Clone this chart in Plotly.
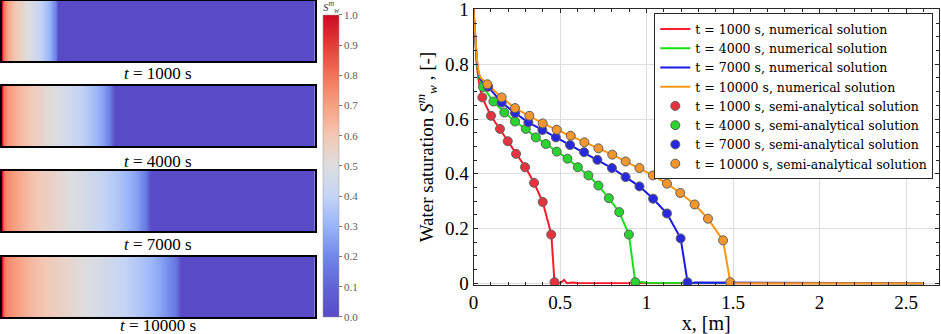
import plotly.graph_objects as go

# ---------------- data ----------------
times = ["1000", "4000", "7000", "10000"]

# numerical solutions (x [m], Sw)
num_x_1000 = [0.0, 0.01, 0.02, 0.03, 0.04, 0.05, 0.10, 0.15, 0.20, 0.25, 0.30, 0.35, 0.40, 0.45, 0.468, 0.48, 0.50, 0.524, 0.54, 0.573, 0.60, 2.60]
num_s_1000 = [1.0, 0.87, 0.79, 0.74, 0.71, 0.679, 0.612, 0.564, 0.519, 0.473, 0.424, 0.367, 0.297, 0.178, 0.004, 0.0, 0.0, 0.012, 0.0, 0.003, 0.001, 0.0]

num_x_4000 = [0.0, 0.01, 0.02, 0.03, 0.04, 0.055, 0.115, 0.178, 0.240, 0.302, 0.360, 0.418, 0.481, 0.543, 0.603, 0.664, 0.722, 0.782, 0.842, 0.898, 0.935, 0.95, 0.97, 1.0, 2.60]
num_s_4000 = [1.0, 0.88, 0.80, 0.76, 0.735, 0.717, 0.664, 0.624, 0.591, 0.564, 0.533, 0.509, 0.481, 0.455, 0.424, 0.394, 0.357, 0.311, 0.260, 0.178, 0.004, 0.0, 0.005, 0.002, 0.0]

num_x_7000 = [0.0, 0.01, 0.02, 0.03, 0.04, 0.085, 0.163, 0.240, 0.317, 0.398, 0.476, 0.558, 0.639, 0.716, 0.800, 0.879, 0.959, 1.038, 1.118, 1.197, 1.237, 1.26, 1.28, 2.60]
num_s_7000 = [1.0, 0.89, 0.81, 0.765, 0.745, 0.718, 0.660, 0.622, 0.588, 0.560, 0.533, 0.505, 0.479, 0.451, 0.421, 0.388, 0.354, 0.309, 0.255, 0.164, 0.004, 0.0, 0.003, 0.0]

num_x_10000 = [0.0, 0.01, 0.02, 0.03, 0.04, 0.080, 0.163, 0.240, 0.323, 0.400, 0.481, 0.562, 0.641, 0.722, 0.802, 0.879, 0.959, 1.037, 1.118, 1.195, 1.278, 1.355, 1.442, 1.484, 1.50, 2.60]
num_s_10000 = [1.0, 0.90, 0.82, 0.77, 0.752, 0.727, 0.679, 0.640, 0.612, 0.584, 0.561, 0.539, 0.515, 0.493, 0.470, 0.445, 0.421, 0.394, 0.364, 0.330, 0.288, 0.236, 0.157, 0.004, 0.0, 0.0]

# semi-analytical solutions
sa_x_1000 = [0.051, 0.101, 0.153, 0.198, 0.246, 0.298, 0.350, 0.400, 0.449, 0.468]
sa_s_1000 = [0.679, 0.612, 0.564, 0.519, 0.473, 0.424, 0.367, 0.297, 0.178, 0.004]

sa_x_4000 = [0.055, 0.115, 0.178, 0.240, 0.302, 0.360, 0.418, 0.481, 0.543, 0.603, 0.664, 0.722, 0.782, 0.842, 0.898, 0.935]
sa_s_4000 = [0.717, 0.664, 0.624, 0.591, 0.564, 0.533, 0.509, 0.481, 0.455, 0.424, 0.394, 0.357, 0.311, 0.260, 0.178, 0.004]

sa_x_7000 = [0.085, 0.163, 0.240, 0.317, 0.398, 0.476, 0.558, 0.639, 0.716, 0.800, 0.879, 0.959, 1.038, 1.118, 1.197, 1.237]
sa_s_7000 = [0.718, 0.660, 0.622, 0.588, 0.560, 0.533, 0.505, 0.479, 0.451, 0.421, 0.388, 0.354, 0.309, 0.255, 0.164, 0.004]

sa_x_10000 = [0.080, 0.163, 0.240, 0.323, 0.400, 0.481, 0.562, 0.641, 0.722, 0.802, 0.879, 0.959, 1.037, 1.118, 1.195, 1.278, 1.355, 1.442, 1.484]
sa_s_10000 = [0.727, 0.679, 0.640, 0.612, 0.584, 0.561, 0.539, 0.515, 0.493, 0.470, 0.445, 0.421, 0.394, 0.364, 0.330, 0.288, 0.236, 0.157, 0.004]

num_x = [num_x_1000, num_x_4000, num_x_7000, num_x_10000]
num_s = [num_s_1000, num_s_4000, num_s_7000, num_s_10000]
sa_x = [sa_x_1000, sa_x_4000, sa_x_7000, sa_x_10000]
sa_s = [sa_s_1000, sa_s_4000, sa_s_7000, sa_s_10000]

line_colors = ["rgb(255,25,45)", "rgb(25,225,25)", "rgb(25,25,235)", "rgb(255,150,20)"]
marker_colors = ["rgb(232,50,62)", "rgb(40,212,45)", "rgb(40,40,222)", "rgb(242,150,45)"]

colorscale = [
    [0.0, "rgb(89,74,199)"],
    [0.1, "rgb(96,100,214)"],
    [0.2, "rgb(112,135,234)"],
    [0.3, "rgb(152,180,250)"],
    [0.4, "rgb(196,212,245)"],
    [0.5, "rgb(221,221,223)"],
    [0.6, "rgb(243,200,180)"],
    [0.7, "rgb(248,160,130)"],
    [0.8, "rgb(242,115,90)"],
    [0.9, "rgb(226,62,56)"],
    [1.0, "rgb(205,10,35)"],
]

SERIF = "Liberation Serif"
W, H = 941, 334

fig = go.Figure()

# ---------------- heatmap panels ----------------
panel_px = [(1, 61), (86, 146), (171, 231), (256.7, 317.3)]
label_px = [73, 161, 244, 325]
for i in range(4):
    xa = "x%d" % (i + 2)
    ya = "y%d" % (i + 2)
    fig.add_trace(go.Heatmap(
        x=num_x[i], y=[0, 1], z=[num_s[i], num_s[i]],
        zmin=0, zmax=1, zsmooth="best", colorscale=colorscale,
        showscale=(i == 0), xaxis=xa, yaxis=ya, hoverinfo="skip",
        colorbar=dict(
            x=322.7 / W, xanchor="left", xpad=0, ypad=0,
            y=1 - 165.9 / H, yanchor="middle", len=301.7 / H, lenmode="fraction",
            thickness=16, outlinewidth=0.5, outlinecolor="rgb(150,150,150)",
            tickmode="linear", tick0=0, dtick=0.1, tickformat=".1f",
            ticks="outside", ticklen=3, tickcolor="rgb(120,120,120)",
            tickfont=dict(family=SERIF, size=11, color="rgb(90,90,90)"),
        ),
    ))
    top, bot = panel_px[i]
    fig.layout["xaxis%d" % (i + 2)] = dict(
        domain=[1.7 / W, 315 / W], anchor=ya, range=[0, 2.6],
        showticklabels=False, ticks="", showgrid=False, zeroline=False,
        showline=True, mirror=True, linecolor="black", linewidth=1.5,
        automargin=False,
    )
    fig.layout["yaxis%d" % (i + 2)] = dict(
        domain=[1 - bot / H, 1 - top / H], anchor=xa, range=[0, 1],
        showticklabels=False, ticks="", showgrid=False, zeroline=False,
        showline=True, mirror=True, linecolor="black", linewidth=1.5,
        automargin=False,
    )
    fig.add_annotation(
        x=158 / W, y=1 - label_px[i] / H, xref="paper", yref="paper",
        text="<i>t</i> = %s s" % times[i], showarrow=False,
        font=dict(family=SERIF, size=17, color="black"),
        xanchor="center", yanchor="middle",
    )

fig.add_annotation(
    x=331 / W, y=1 - 7 / H, xref="paper", yref="paper",
    text="<i>S</i><sup><i>m</i></sup><sub><i>w</i></sub>", showarrow=False,
    font=dict(family=SERIF, size=11, color="rgb(60,60,60)"),
    xanchor="center", yanchor="middle",
)

# ---------------- line plot ----------------
for i in range(4):
    fig.add_trace(go.Scatter(
        x=num_x[i], y=num_s[i], mode="lines",
        line=dict(color=line_colors[i], width=2),
        name="t = %s s, numerical solution" % times[i],
        xaxis="x", yaxis="y",
    ))
for i in range(4):
    fig.add_trace(go.Scatter(
        x=sa_x[i], y=sa_s[i], mode="markers",
        marker=dict(color=marker_colors[i], size=9,
                    line=dict(color="rgb(95,95,95)", width=1)),
        name="t = %s s, semi-analytical solution" % times[i],
        xaxis="x", yaxis="y",
    ))

axis_common = dict(
    showline=True, mirror="allticks", linecolor="rgb(40,40,40)", linewidth=1,
    ticks="inside", ticklen=4, tickcolor="rgb(40,40,40)",
    showgrid=True, gridcolor="rgb(222,222,222)", gridwidth=1, zeroline=False,
    tickfont=dict(family=SERIF, size=19, color="black"),
    automargin=False, ticklabeloverflow="allow",
)

fig.update_layout(
    width=W, height=H,
    margin=dict(l=0, r=0, t=0, b=0, pad=0, autoexpand=False),
    paper_bgcolor="white", plot_bgcolor="white",
    font=dict(family=SERIF, color="black"),
    xaxis=dict(
        domain=[473.5 / W, 939 / W], anchor="y", range=[0, 2.69],
        tickmode="linear", tick0=0, dtick=0.5,
        minor=dict(dtick=0.1, ticks="inside", ticklen=3, tickcolor="rgb(40,40,40)", showgrid=False),
        title=dict(text="x, [m]", font=dict(family=SERIF, size=20), standoff=4),
        **axis_common,
    ),
    yaxis=dict(
        domain=[1 - 285.2 / H, 1 - 9 / H], anchor="x", range=[-0.007, 1.002],
        tickmode="linear", tick0=0, dtick=0.2,
        minor=dict(dtick=0.05, ticks="inside", ticklen=3, tickcolor="rgb(40,40,40)", showgrid=False),
        title=dict(text="Water saturation <i>S</i><sup><i>m</i></sup><sub><i>w</i></sub> , [-]",
                   font=dict(family=SERIF, size=19), standoff=6),
        **axis_common,
    ),
    legend=dict(
        x=933.3 / W, xanchor="right", y=1 - 13.3 / H, yanchor="top",
        bgcolor="white", bordercolor="rgb(40,40,40)", borderwidth=1,
        font=dict(family="DejaVu Serif", size=12.5, color="black"),
        tracegroupgap=0, itemsizing="trace",
    ),
    showlegend=True,
)

fig.write_html(
    "out.html",
    config={"displayModeBar": False},
    post_script="document.body.style.margin='0';document.body.style.padding='0';",
)
